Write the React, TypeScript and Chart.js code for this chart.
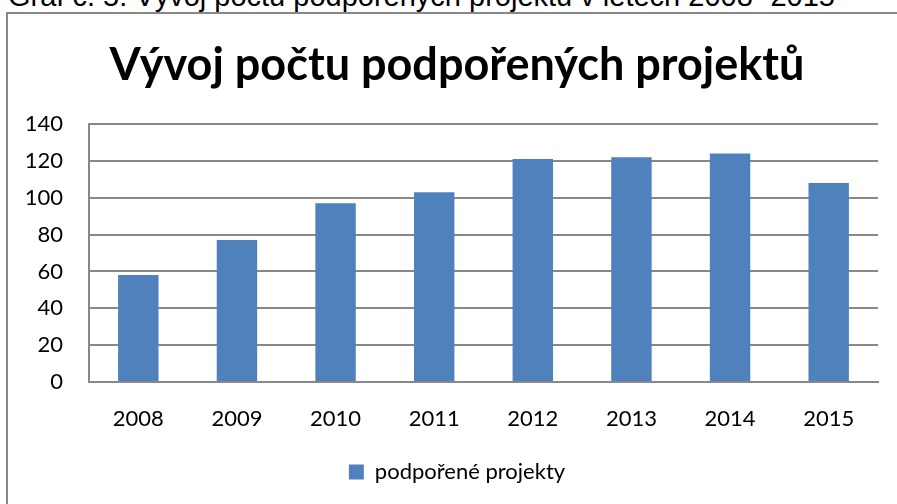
import React, { useEffect, useRef } from "react";
import { Chart, registerables } from "chart.js";

Chart.register(...registerables);

const caption = "Graf č. 5: Vývoj počtu podpořených projektů v letech 2008- 2015";
const chartTitle = "Vývoj počtu podpořených projektů";
const seriesName = "podpořené projekty";
const years = ["2008", "2009", "2010", "2011", "2012", "2013", "2014", "2015"];
const projects = [58, 77, 97, 103, 121, 122, 124, 108];
const yMax = 140;
const yStep = 20;

export default function App() {
  const ref = useRef<HTMLCanvasElement | null>(null);

  useEffect(() => {
    const ctx = ref.current;
    if (!ctx) return;
    const chart = new Chart(ctx, {
      type: "bar",
      data: {
        labels: years,
        datasets: [
          {
            label: seriesName,
            data: projects,
            backgroundColor: "#4F81BD",
            borderWidth: 0,
            barPercentage: 0.41,
            categoryPercentage: 1,
            yAxisID: "y",
          },
        ],
      },
      options: {
        animation: false,
        responsive: false,
        devicePixelRatio: 1,
        layout: { padding: { left: 0, right: 0, top: 0, bottom: 11 } },
        plugins: {
          title: {
            display: true,
            text: chartTitle,
            color: "#000",
            font: { family: "Lato", weight: "bold", size: 45 },
            padding: { top: 24, bottom: 32 },
          },
          legend: {
            display: true,
            position: "bottom",
            labels: {
              color: "#000",
              font: { family: "Lato", size: 22 },
              boxWidth: 15,
              boxHeight: 15,
              padding: 8,
            },
          },
          tooltip: { enabled: false },
        },
        scales: {
          x: {
            afterFit: (s: any) => {
              s.height = 71;
            },
            grid: { display: false, drawTicks: false },
            border: { display: true, color: "#888888", width: 2 },
            ticks: { color: "#000", font: { family: "Lato", size: 22 }, padding: 24 },
          },
          y: {
            min: 0,
            max: yMax,
            afterFit: (s: any) => {
              s.width = 80;
            },
            grid: { color: "#888888", lineWidth: 2, drawTicks: false },
            border: { display: true, color: "#888888", width: 2 },
            ticks: {
              stepSize: yStep,
              color: "#000",
              font: { family: "Lato", size: 22 },
              padding: 26,
            },
          },
          yRight: {
            position: "right",
            display: true,
            afterFit: (s: any) => {
              s.width = 27;
            },
            grid: { display: false, drawTicks: false },
            border: { display: false },
            ticks: { display: false },
          },
        },
      },
    });
    return () => chart.destroy();
  }, []);

  return (
    <div style={{ position: "fixed", left: 0, top: 0, width: 897, height: 504, overflow: "hidden", background: "#fff" }}>
      <div
        style={{
          position: "absolute",
          left: 8,
          top: -21,
          fontFamily: "'Liberation Sans', Arial, sans-serif",
          fontSize: 29,
          whiteSpace: "nowrap",
          color: "#000",
          lineHeight: "34px",
        }}
      >
        {caption}
      </div>
      <div
        style={{
          position: "absolute",
          left: 6,
          top: 12,
          width: 891,
          height: 492,
          borderLeft: "2px solid #888888",
          borderTop: "2px solid #888888",
        }}
      />
      <canvas ref={ref} width={896} height={490} style={{ position: "absolute", left: 9, top: 14, width: 896, height: 490 }} />
    </div>
  );
}
